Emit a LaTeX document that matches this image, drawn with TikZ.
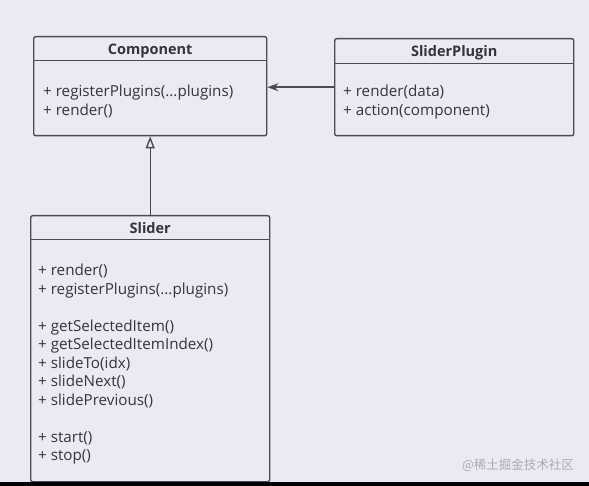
\documentclass[tikz,border=0pt]{standalone}
\usepackage{fontspec}
\setsansfont{Open Sans}
\newfontfamily\cjkfont{Noto Sans CJK SC}
\usepackage{xcolor}
\usetikzlibrary{arrows.meta, positioning}

\definecolor{bgcol}{HTML}{ECE9F4}
\definecolor{linecol}{HTML}{4B4A55}
\definecolor{txtcol}{HTML}{35343D}
\definecolor{markcol}{HTML}{ABAAB6}

\begin{document}
\begin{tikzpicture}[
    x=1pt, y=-1pt,
    classbox/.style={rectangle, draw=linecol, line width=1.4pt, rounded corners=2pt, anchor=north west, inner sep=0pt},
    classhead/.style={anchor=north, minimum height=24pt, inner sep=0pt, text height=12pt, text depth=0pt, font=\sffamily\bfseries\fontsize{14.5}{16}\selectfont, text=txtcol},
    methods/.style={anchor=north west, align=left, inner sep=0pt, font=\sffamily\fontsize{15.2}{18.5}\selectfont, text=txtcol},
    sepline/.style={draw=linecol, line width=1.4pt},
    assoc/.style={-{Stealth[length=11pt, width=8pt]}, draw=linecol, line width=1.4pt},
    inherit/.style={-{Triangle[open, length=12pt, width=9pt]}, draw=linecol, line width=1.4pt},
]

% ---- canvas ----
\fill[bgcol] (0,0) rectangle (589,486);
\useasboundingbox (0,0) rectangle (589,486);

% ---- Component ----
\node[classbox, minimum width=233pt, minimum height=99pt] (comp) at (33,36) {};
\node[classhead, minimum width=233pt] (comphead) at (comp.north) {Component};
\draw[sepline] (comphead.south west) -- (comphead.south east);
\node[methods] (compops) at (43,85) {+ registerPlugins(...plugins)\\+ render()};

% ---- SliderPlugin ----
\node[classbox, minimum width=239pt, minimum height=97pt] (plugin) at (334,38) {};
\node[classhead, minimum width=239pt, minimum height=25pt] (pluginhead) at (plugin.north) {SliderPlugin};
\draw[sepline] (pluginhead.south west) -- (pluginhead.south east);
\node[methods] (pluginops) at (343,85) {+ render(data)\\+ action(component)};

% ---- Slider ----
\node[classbox, minimum width=239pt, minimum height=266pt] (slider) at (30,215) {};
\node[classhead, minimum width=239pt] (sliderhead) at (slider.north) {Slider};
\draw[sepline] (sliderhead.south west) -- (sliderhead.south east);
\node[methods] (sliderops) at (38,264) {+ render()\\+ registerPlugins(...plugins)\\[18.5pt]
  + getSelectedItem()\\+ getSelectedItemIndex()\\+ slideTo(idx)\\+ slideNext()\\+ slidePrevious()\\[18.5pt]
  + start()\\+ stop()};

% ---- relations ----
\draw[assoc] (plugin.west) -- (plugin.west -| comp.east);
\draw[inherit] (slider.north) -- (comp.south);

% ---- footer ----
\fill[black] (0,482) rectangle (589,486);
\node[font=\cjkfont\fontsize{12.5}{14}\selectfont, text=markcol] (mark) at (518,465) {@稀土掘金技术社区};

\end{tikzpicture}
\end{document}
